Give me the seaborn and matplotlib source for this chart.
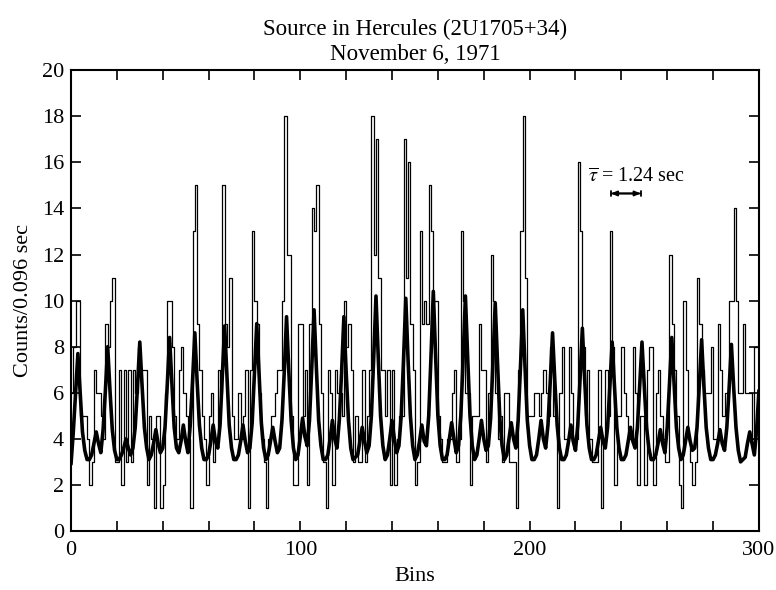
import numpy as np
import pandas as pd
import matplotlib
matplotlib.use("Agg")
import matplotlib.pyplot as plt
import seaborn as sns

# counts per 0.096 s bin (bins 0..299)
counts = [
    6, 8, 10, 10, 5, 5, 5, 4, 2, 3,
    7, 6, 6, 5, 4, 9, 8, 10, 11, 3,
    3, 7, 2, 7, 3, 7, 3, 7, 6, 8,
    7, 7, 7, 2, 5, 4, 1, 5, 5, 1,
    2, 6, 10, 10, 8, 5, 4, 7, 8, 6,
    5, 4, 1, 13, 15, 9, 7, 5, 4, 2,
    5, 6, 3, 4, 7, 6, 15, 9, 8, 11,
    5, 4, 4, 6, 4, 5, 7, 1, 7, 13,
    10, 9, 6, 4, 3, 1, 4, 5, 5, 6,
    7, 7, 10, 18, 12, 12, 5, 2, 2, 9,
    9, 5, 7, 2, 9, 14, 13, 15, 9, 6,
    3, 1, 7, 6, 2, 7, 6, 6, 5, 10,
    8, 9, 7, 3, 5, 3, 3, 7, 3, 5,
    7, 18, 12, 17, 11, 7, 7, 5, 7, 2,
    7, 2, 4, 5, 5, 17, 11, 16, 9, 7,
    2, 3, 13, 9, 10, 9, 15, 13, 10, 10,
    5, 4, 3, 3, 4, 4, 6, 7, 3, 4,
    13, 10, 6, 6, 2, 5, 5, 5, 9, 7,
    7, 3, 6, 12, 10, 6, 4, 5, 3, 6,
    6, 3, 3, 3, 1, 7, 13, 18, 11, 5,
    5, 5, 6, 6, 5, 6, 7, 6, 5, 8,
    5, 5, 1, 6, 8, 4, 4, 8, 6, 4,
    4, 16, 13, 8, 5, 7, 4, 3, 3, 3,
    7, 1, 4, 7, 5, 13, 8, 2, 5, 5,
    8, 6, 5, 4, 4, 8, 6, 2, 5, 5,
    2, 7, 8, 8, 2, 6, 7, 5, 4, 3,
    3, 12, 9, 7, 5, 2, 1, 10, 7, 4,
    3, 2, 3, 11, 9, 7, 6, 6, 6, 8,
    4, 4, 9, 7, 5, 6, 6, 10, 10, 14,
    10, 6, 6, 9, 6, 6, 6, 4, 8, 8,
]

# folded light-curve model, sampled at each bin edge (0..300)
model = [
    2.9, 4.3, 6.0, 7.7, 6.0, 4.3, 3.5, 3.1, 3.1, 3.3,
    3.8, 4.3, 3.8, 3.4, 4.4, 6.1, 8.0, 6.1, 4.4, 3.5,
    3.1, 3.1, 3.3, 3.6, 4.0, 3.6, 3.3, 3.6, 4.5, 6.3,
    8.2, 6.3, 4.5, 3.6, 3.1, 3.3, 3.8, 4.4, 3.8, 3.4,
    3.6, 4.5, 6.4, 8.4, 6.4, 4.5, 3.6, 3.4, 3.9, 4.6,
    3.9, 3.4, 4.6, 6.5, 8.6, 6.5, 4.6, 3.6, 3.1, 3.1,
    3.3, 3.9, 4.6, 3.9, 3.6, 4.6, 6.7, 8.9, 6.7, 4.6,
    3.6, 3.1, 3.1, 3.3, 3.9, 4.6, 3.9, 3.4, 3.6, 4.7,
    6.8, 9.0, 6.8, 4.7, 3.6, 3.1, 3.3, 3.9, 4.5, 3.9,
    3.4, 3.6, 4.8, 6.9, 9.3, 6.9, 4.8, 3.6, 3.1, 3.3,
    4.1, 4.9, 4.1, 3.7, 4.8, 7.1, 9.6, 7.1, 4.8, 3.7,
    3.1, 3.1, 3.3, 4.0, 4.8, 4.0, 3.6, 4.8, 6.9, 9.3,
    6.9, 4.8, 3.6, 3.1, 3.2, 3.3, 3.9, 4.5, 3.9, 3.4,
    3.7, 5.0, 7.5, 10.2, 7.5, 5.0, 3.7, 3.1, 3.3, 4.0,
    4.8, 4.0, 3.4, 3.7, 5.0, 7.4, 10.1, 7.4, 5.0, 3.7,
    3.1, 3.3, 3.9, 4.6, 3.9, 3.7, 5.0, 7.6, 10.4, 7.6,
    5.0, 3.7, 3.1, 3.1, 3.3, 4.0, 4.7, 4.0, 3.4, 3.7,
    5.0, 7.5, 10.2, 7.5, 5.0, 3.7, 3.1, 3.3, 4.0, 4.8,
    4.0, 3.5, 3.7, 4.9, 7.3, 9.9, 7.3, 4.9, 3.7, 3.1,
    3.3, 4.0, 4.7, 4.0, 3.6, 4.8, 7.1, 9.6, 7.1, 4.8,
    3.7, 3.1, 3.1, 3.3, 4.0, 4.8, 4.0, 3.6, 4.6, 6.5,
    8.6, 6.5, 4.6, 3.6, 3.1, 3.1, 3.3, 3.9, 4.6, 3.9,
    3.5, 4.6, 6.6, 8.8, 6.6, 4.6, 3.6, 3.1, 3.1, 3.3,
    3.9, 4.5, 3.9, 3.6, 4.5, 6.3, 8.2, 6.3, 4.5, 3.6,
    3.1, 3.1, 3.3, 3.9, 4.5, 3.9, 3.6, 4.5, 6.3, 8.2,
    6.3, 4.5, 3.6, 3.1, 3.1, 3.3, 3.8, 4.4, 3.8, 3.4,
    4.5, 6.4, 8.4, 6.4, 4.5, 3.6, 3.1, 3.3, 3.9, 4.5,
    3.9, 3.5, 3.6, 4.5, 6.3, 8.3, 6.3, 4.5, 3.6, 3.1,
    3.1, 3.3, 3.8, 4.4, 3.8, 3.5, 4.5, 6.2, 8.1, 6.2,
    4.5, 3.5, 3.0, 3.1, 3.2, 3.8, 4.3, 3.8, 3.3, 4.4,
    6.1,
]

bin_sec = 0.096
tau = 1.24
tau_start = 235.5

sns.set_style("ticks")
plt.rcParams["font.family"] = ["Liberation Serif", "DejaVu Serif"]
plt.rcParams["mathtext.fontset"] = "stix"
plt.rcParams.update({"text.color": "black", "axes.labelcolor": "black",
                     "xtick.color": "black", "ytick.color": "black",
                     "axes.edgecolor": "black"})

fig = plt.figure(figsize=(7.76, 5.90), dpi=100)
ax = fig.add_axes([0.0915, 0.1, 0.8865, 0.781])

hist_df = pd.DataFrame({"bin": np.arange(len(counts) + 1),
                        "counts": counts + [counts[-1]]})
sns.lineplot(data=hist_df, x="bin", y="counts", drawstyle="steps-post",
             color="black", lw=0.9, ax=ax)

model_df = pd.DataFrame({"bin": np.arange(len(model)), "model": model})
sns.lineplot(data=model_df, x="bin", y="model", color="black", lw=2.6, ax=ax)

ax.set_xlim(0, 300)
ax.set_ylim(0, 20)
ax.set_xticks([0, 100, 200, 300])
ax.set_xticks(np.arange(0, 301, 20), minor=True)
ax.set_yticks(np.arange(0, 21, 2))
ax.tick_params(which="both", direction="in", top=True, right=True,
               length=7, width=1.2, labelsize=16)
ax.tick_params(axis="y", pad=5)
ax.tick_params(axis="x", pad=7)
for sp in ax.spines.values():
    sp.set_linewidth(1.5)

ax.set_xlabel("Bins", fontsize=16, labelpad=5)
ax.set_ylabel("Counts/0.096 sec", fontsize=16, labelpad=6)
ax.set_title("Source in Hercules (2U1705+34)\nNovember 6, 1971",
             fontsize=16.5, pad=7, linespacing=1.25)

# mean period marker
tau_bins = tau / bin_sec
ax.text(225.5, 15.35, r"$\overline{\tau}$ = 1.24 sec", fontsize=14.5,
        va="center", ha="left")
ax.annotate("", xy=(tau_start, 14.65), xytext=(tau_start + tau_bins, 14.65),
            arrowprops=dict(arrowstyle="<|-|>,head_length=0.35,head_width=0.15",
                            color="black", lw=1.3, shrinkA=0, shrinkB=0))
ax.annotate("", xy=(tau_start, 14.65), xytext=(tau_start + tau_bins, 14.65),
            arrowprops=dict(arrowstyle="|-|,widthA=0.2,widthB=0.2",
                            color="black", lw=1.3, shrinkA=0, shrinkB=0))

fig.savefig("out.png", dpi=100)
